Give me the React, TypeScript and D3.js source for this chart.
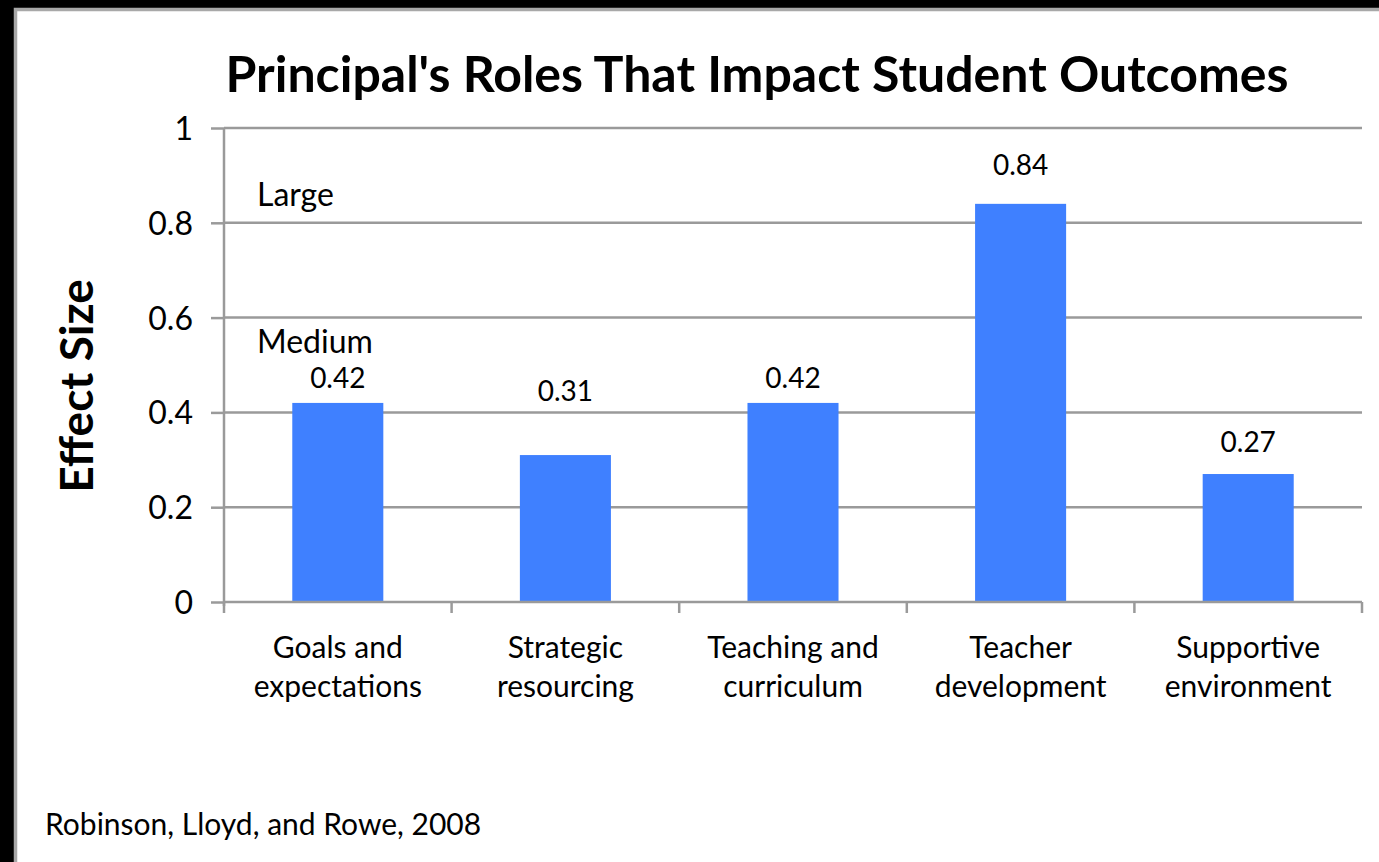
import React, { useEffect, useRef } from 'react'
import * as d3 from 'd3'

// values
const categories = [
  'Goals and expectations',
  'Strategic resourcing',
  'Teaching and curriculum',
  'Teacher development',
  'Supportive environment'
]
const categoryLines = [
  ['Goals and', 'expectations'],
  ['Strategic', 'resourcing'],
  ['Teaching and', 'curriculum'],
  ['Teacher', 'development'],
  ['Supportive', 'environment']
]
const effectSizes = [0.42, 0.31, 0.42, 0.84, 0.27]
const valueLabels = ['0.42', '0.31', '0.42', '0.84', '0.27']
// where each value label sits, in effect-size units (hand placed in the original)
const labelLevels = [0.452, 0.424, 0.452, 0.9, 0.316]
const yTicks = [0, 0.2, 0.4, 0.6, 0.8, 1]
const yTickLabels = ['0', '0.2', '0.4', '0.6', '0.8', '1']
const bands = [
  { name: 'Large', level: 0.835 },
  { name: 'Medium', level: 0.525 }
]

const W = 1379
const H = 862
const FONT = 'Lato, "Open Sans", sans-serif'
const GRAY = '#9a9a9a'

export default function App () {
  const ref = useRef<SVGSVGElement>(null)

  useEffect(() => {
    const svg = d3.select(ref.current)
    svg.selectAll('*').remove()

    // frame
    svg.append('rect').attr('width', W).attr('height', H).attr('fill', '#000')
    svg.append('rect')
      .attr('x', 15.5).attr('y', 9.5)
      .attr('width', W + 10).attr('height', H + 10)
      .attr('fill', '#fff')
      .attr('stroke', '#a8a8a8')
      .attr('stroke-width', 3.5)

    const left = 224
    const right = 1362
    const top = 128
    const bottom = 602

    const x = d3.scaleBand<string>()
      .domain(categories)
      .range([left, right])
      .paddingInner(0.6)
      .paddingOuter(0.3)

    const y = d3.scaleLinear().domain([0, 1]).range([bottom, top])

    // title
    svg.append('text')
      .attr('x', 757).attr('y', 92)
      .attr('text-anchor', 'middle')
      .attr('font-family', FONT)
      .attr('font-weight', 700)
      .attr('font-size', 50)
      .text("Principal's Roles That Impact Student Outcomes")

    // y axis title
    svg.append('text')
      .attr('transform', 'translate(93,386) rotate(-90)')
      .attr('text-anchor', 'middle')
      .attr('font-family', FONT)
      .attr('font-weight', 700)
      .attr('font-size', 46)
      .text('Effect Size')

    // gridlines
    svg.append('g')
      .selectAll('line')
      .data(yTicks.filter(d => d > 0))
      .join('line')
      .attr('x1', left).attr('x2', right)
      .attr('y1', d => y(d)).attr('y2', d => y(d))
      .attr('stroke', GRAY)
      .attr('stroke-width', 2.5)

    // y axis
    const yAxis = svg.append('g')
      .attr('transform', `translate(${left},0)`)
      .call(d3.axisLeft(y).tickValues(yTicks).tickSize(13).tickPadding(18)
        .tickFormat((d, i) => yTickLabels[i]))
    yAxis.select('.domain').remove()
    yAxis.selectAll('line').attr('stroke', GRAY).attr('stroke-width', 2.5)
    yAxis.selectAll('text')
      .attr('font-family', FONT)
      .attr('font-size', 32)
      .attr('fill', '#000')
      .attr('dy', '0.36em')
    yAxis.append('line')
      .attr('x1', 0).attr('x2', 0)
      .attr('y1', top).attr('y2', bottom + 4)
      .attr('stroke', GRAY).attr('stroke-width', 2.5)

    // bars
    svg.append('g')
      .selectAll('rect')
      .data(effectSizes)
      .join('rect')
      .attr('x', (d, i) => x(categories[i]) as number)
      .attr('width', x.bandwidth())
      .attr('y', d => y(d))
      .attr('height', d => y(0) - y(d))
      .attr('fill', '#3f80ff')

    // x axis
    const boundaries = categories.map(c => (x(c) as number) - x.step() * 0.3)
    boundaries.push(right)
    svg.append('line')
      .attr('x1', left).attr('x2', right)
      .attr('y1', bottom).attr('y2', bottom)
      .attr('stroke', GRAY).attr('stroke-width', 2.5)
    svg.append('g')
      .selectAll('line')
      .data(boundaries)
      .join('line')
      .attr('x1', d => d).attr('x2', d => d)
      .attr('y1', bottom).attr('y2', bottom + 11)
      .attr('stroke', GRAY).attr('stroke-width', 2.5)

    // category labels
    const catG = svg.append('g')
      .attr('font-family', FONT)
      .attr('font-size', 30)
      .attr('text-anchor', 'middle')
    catG.selectAll('text')
      .data(categoryLines)
      .join('text')
      .attr('x', (d, i) => (x(categories[i]) as number) + x.bandwidth() / 2)
      .attr('y', 658)
      .selectAll('tspan')
      .data(d => d)
      .join('tspan')
      .attr('x', function () {
        return (this.parentNode as SVGTextElement).getAttribute('x')
      })
      .attr('dy', (d, i) => i === 0 ? 0 : 39)
      .text(d => d)

    // value labels
    svg.append('g')
      .selectAll('text')
      .data(valueLabels)
      .join('text')
      .attr('x', (d, i) => (x(categories[i]) as number) + x.bandwidth() / 2)
      .attr('y', (d, i) => y(labelLevels[i]))
      .attr('text-anchor', 'middle')
      .attr('font-family', FONT)
      .attr('font-size', 28)
      .text(d => d)

    // effect size bands
    svg.append('g')
      .selectAll('text')
      .data(bands)
      .join('text')
      .attr('x', 257)
      .attr('y', d => y(d.level))
      .attr('font-family', FONT)
      .attr('font-size', 32)
      .text(d => d.name)

    // source
    svg.append('text')
      .attr('x', 45).attr('y', 835)
      .attr('font-family', FONT)
      .attr('font-size', 30)
      .text('Robinson, Lloyd, and Rowe, 2008')
  }, [])

  return (
    <svg ref={ref} width={W} height={H}
      style={{ position: 'absolute', left: 0, top: 0, display: 'block' }} />
  )
}
